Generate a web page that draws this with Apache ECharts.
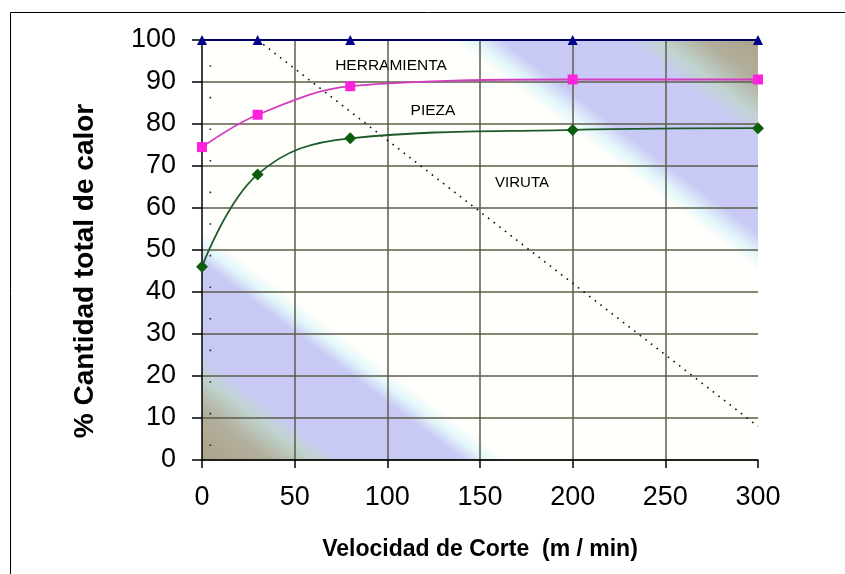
<!DOCTYPE html>
<html>
<head>
<meta charset="utf-8">
<title>Cantidad total de calor vs velocidad de corte</title>
<script src="https://cdn.jsdelivr.net/npm/echarts@6/dist/echarts.min.js"></script>
<style>
  html, body { margin: 0; padding: 0; background: #fff; }
  #chart { width: 845px; height: 574px; }
</style>
</head>
<body>
<div id="chart"></div>
<script>
// velocidades medidas (m/min)
const speeds = [0, 30, 80, 200, 300];
// curvas de reparto del calor (%)
const herramienta = [100, 100, 100, 100, 100];
const pieza = [74.5, 82.2, 89, 90.6, 90.6];
const viruta = [46, 68, 76.6, 78.6, 79];
// lineas punteadas de referencia
const guideDiag = [[30, 100], [300, 8]];
const guideLeft = [[4.5, 94], [4.5, 3]];
// rotulos de zonas
const zoneNames = ['HERRAMIENTA', 'PIEZA', 'VIRUTA'];

const pairs = ys => speeds.map((x, i) => [x, ys[i]]);

// caja del area de trazado
const box = { left: 202, top: 40, width: 556, height: 420 };
const font = '"Liberation Sans", Arial, sans-serif';

// degradado diagonal tipo Excel (bandas paralelas a la antidiagonal)
const cx = box.left + box.width / 2, cy = box.top + box.height / 2;
const len = Math.hypot(box.width, box.height);
const ux = box.height / len, uy = -box.width / len;
const half = (box.width / 2) * ux + (box.height / 2) * (-uy);
const bg = {
  type: 'linear', global: true,
  x: cx - half * ux, y: cy - half * uy,
  x2: cx + half * ux, y2: cy + half * uy,
  colorStops: [
    { offset: 0.00, color: '#aaa38c' },
    { offset: 0.06, color: '#b2af9c' },
    { offset: 0.10, color: '#c0d4cf' },
    { offset: 0.125, color: '#c9c9f5' },
    { offset: 0.235, color: '#c9c9f5' },
    { offset: 0.255, color: '#e2f6fa' },
    { offset: 0.275, color: '#fffffb' },
    { offset: 0.725, color: '#fffffb' },
    { offset: 0.745, color: '#e2f6fa' },
    { offset: 0.77, color: '#c9c9f5' },
    { offset: 0.88, color: '#c9c9f5' },
    { offset: 0.91, color: '#c0d4cf' },
    { offset: 0.95, color: '#b2af9c' },
    { offset: 1.00, color: '#aaa38c' }
  ]
};

const chart = echarts.init(document.getElementById('chart'));

const gridLine = { color: '#5c5c4a', width: 1.5 };

chart.setOption({
  backgroundColor: '#ffffff',
  animation: false,
  grid: {
    left: box.left, top: box.top, width: box.width, height: box.height,
    show: true, backgroundColor: bg, borderWidth: 0
  },
  xAxis: {
    type: 'value', min: 0, max: 300, interval: 50,
    axisLine: { show: true, lineStyle: { color: '#000', width: 1.5 } },
    axisTick: { show: true, inside: false, length: 8, lineStyle: { color: '#000', width: 1.5 } },
    splitLine: { show: true, showMinLine: false, showMaxLine: false, lineStyle: gridLine },
    axisLabel: { fontSize: 27, color: '#000', fontFamily: font, margin: 24 }
  },
  yAxis: {
    type: 'value', min: 0, max: 100, interval: 10,
    axisLine: { show: true, lineStyle: { color: '#000', width: 1.5 } },
    axisTick: { show: true, inside: false, length: 10, lineStyle: { color: '#000', width: 1.5 } },
    splitLine: { show: true, lineStyle: gridLine },
    axisLabel: { fontSize: 27, color: '#000', fontFamily: font, margin: 26 }
  },
  series: [
    {
      name: 'guia diagonal', type: 'line', data: guideDiag, symbol: 'none',
      lineStyle: { color: '#111', width: 1.6, type: [1.6, 5.5] }, z: 2
    },
    {
      name: 'guia izquierda', type: 'line', data: guideLeft, symbol: 'none',
      lineStyle: { color: '#222', width: 1.6, type: [1.6, 30] }, z: 2
    },
    {
      name: 'Herramienta', type: 'line', data: pairs(herramienta),
      symbol: 'triangle', symbolSize: 10,
      itemStyle: { color: '#00008b' },
      lineStyle: { color: '#000066', width: 2 }, z: 3
    },
    {
      name: 'Pieza', type: 'line', data: pairs(pieza), smooth: 0.35,
      symbol: 'rect', symbolSize: 10,
      itemStyle: { color: '#ff22dd' },
      lineStyle: { color: '#d43cc0', width: 1.8 }, z: 3
    },
    {
      name: 'Viruta', type: 'line', data: pairs(viruta), smooth: 0.4,
      symbol: 'diamond', symbolSize: 12,
      itemStyle: { color: '#0c5e0c' },
      lineStyle: { color: '#1d5a2a', width: 1.8 }, z: 3
    }
  ],
  graphic: [
    {
      type: 'rect', silent: true,
      shape: { x: 10.5, y: 12.5, width: 860, height: 600 },
      style: { fill: null, stroke: '#000', lineWidth: 1 }
    },
    {
      type: 'text', x: 391, y: 66,
      style: { text: zoneNames[0], font: '15.5px ' + font, fill: '#000', align: 'center', verticalAlign: 'middle' }
    },
    {
      type: 'text', x: 433, y: 111,
      style: { text: zoneNames[1], font: '15.5px ' + font, fill: '#000', align: 'center', verticalAlign: 'middle' }
    },
    {
      type: 'text', x: 522, y: 183,
      style: { text: zoneNames[2], font: '15px ' + font, fill: '#000', align: 'center', verticalAlign: 'middle' }
    },
    {
      type: 'text', x: 85, y: 271, rotation: Math.PI / 2,
      style: { text: '% Cantidad total de calor', font: 'bold 28px ' + font, fill: '#000', align: 'center', verticalAlign: 'middle' }
    },
    {
      type: 'text', x: 480, y: 550,
      style: { text: 'Velocidad de Corte  (m / min)', font: 'bold 23px ' + font, fill: '#000', align: 'center', verticalAlign: 'middle' }
    }
  ]
});
</script>
</body>
</html>
